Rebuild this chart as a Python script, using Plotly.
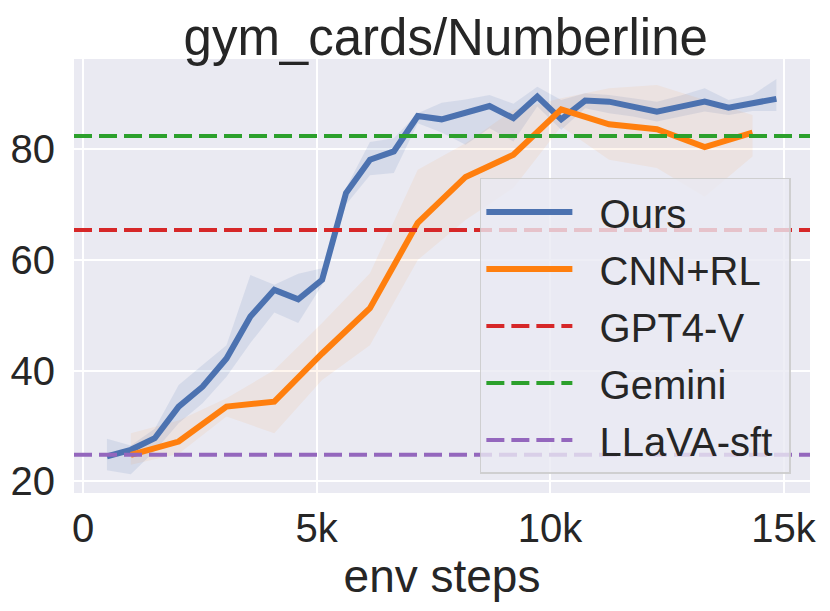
import plotly.graph_objects as go

# env steps (x) for each method
steps_ours = [512, 1024, 1536, 2048, 2560, 3072, 3584, 4096, 4608, 5120,
              5632, 6144, 6656, 7168, 7680, 8192, 8704, 9216, 9728, 10240,
              10752, 11264, 11776, 12288, 12800, 13312, 13824, 14336, 14848]
ours_mean = [24.5, 25.7, 27.8, 33.5, 37.1, 42.2, 49.8, 54.6, 52.9, 56.4,
             72.1, 78.1, 79.6, 86.0, 85.4, 86.5, 87.8, 85.6, 89.5, 85.4,
             88.8, 88.6, 87.7, 86.8, 87.7, 88.6, 87.5, 88.3, 89.1]
ours_upper = [27.7, 26.5, 29.5, 37.4, 41.0, 44.6, 57.3, 55.5, 57.5, 58.5,
              73.0, 81.3, 82.0, 86.5, 88.4, 89.0, 89.8, 88.2, 91.3, 88.9,
              90.1, 89.8, 89.2, 88.6, 89.7, 91.0, 88.9, 89.8, 92.7]
ours_lower = [22.0, 21.3, 25.5, 30.5, 34.1, 38.9, 45.0, 50.5, 48.6, 55.5,
              70.0, 75.3, 75.7, 84.7, 83.0, 80.8, 83.8, 81.4, 87.7, 83.5,
              87.4, 86.5, 85.9, 85.0, 85.9, 86.8, 86.2, 86.9, 86.9]

steps_cnn = [1024, 2048, 3072, 4096, 5120, 6144, 7168, 8192, 9216, 10240,
             11264, 12288, 13312, 14336]
cnn_mean = [24.8, 27.2, 33.5, 34.4, 43.1, 51.3, 66.7, 75.0, 79.0, 87.2,
            84.5, 83.6, 80.4, 83.0]
cnn_upper = [28.7, 31.0, 35.0, 40.1, 48.6, 57.6, 76.3, 81.1, 87.1, 89.2,
             91.0, 91.6, 88.9, 86.2]
cnn_lower = [23.0, 25.0, 31.7, 28.7, 38.3, 44.6, 60.0, 67.2, 73.0, 84.1,
             78.1, 76.6, 71.4, 78.7]

# baselines (horizontal lines)
baseline_names = ["GPT4-V", "Gemini", "LLaVA-sft"]
baseline_values = [65.4, 82.4, 24.8]
baseline_colors = ["#D62728", "#2CA02C", "#9467BD"]

x_range = [-193, 15567]
y_range = [17.9, 96.3]
x_ticks = [0, 5000, 10000, 15000]
x_ticktext = ["0", "5k", "10k", "15k"]
y_ticks = [20, 40, 60, 80]

FONT = "Liberation Sans, Arial, sans-serif"
TXT = "#262626"
PAD = "\u00a0\u00a0"  # gap between legend line and label
END = "\u00a0"        # a bit of right padding in the legend box

fig = go.Figure()


def add_band(x, lo, hi, fillcolor):
    fig.add_trace(go.Scatter(x=x, y=lo, mode="lines", line=dict(width=0),
                             showlegend=False, hoverinfo="skip"))
    fig.add_trace(go.Scatter(x=x, y=hi, mode="lines", line=dict(width=0),
                             fill="tonexty", fillcolor=fillcolor,
                             showlegend=False, hoverinfo="skip"))


add_band(steps_ours, ours_lower, ours_upper, "rgba(76,114,176,0.13)")
add_band(steps_cnn, cnn_lower, cnn_upper, "rgba(255,127,14,0.07)")

fig.add_trace(go.Scatter(x=steps_ours, y=ours_mean, mode="lines",
                         name=PAD + "Ours" + END, legendgroup="a",
                         line=dict(color="#4C72B0", width=6)))
fig.add_trace(go.Scatter(x=steps_cnn, y=cnn_mean, mode="lines",
                         name=PAD + "CNN+RL" + END, legendgroup="b",
                         line=dict(color="#FF7F0E", width=6)))

for i, (name, val, col) in enumerate(zip(baseline_names, baseline_values, baseline_colors)):
    fig.add_trace(go.Scatter(x=x_range, y=[val, val], mode="lines",
                             name=PAD + name + END, legendgroup="c%d" % i,
                             line=dict(color=col, width=4, dash="18px,7px")))

# page body has an 8px margin, so the figure is 8px smaller than the window
fig.update_layout(
    width=822, height=603,
    margin=dict(l=66, r=20, t=51, b=118),
    paper_bgcolor="white",
    plot_bgcolor="#EAEAF2",
    font=dict(family=FONT, color=TXT, size=40),
    title=dict(text="gym_cards/Numberline", x=0.5325, xanchor="center",
               y=0.952, yanchor="middle", font=dict(size=51, color=TXT)),
    legend=dict(x=0.974, y=0.044, xanchor="right", yanchor="bottom",
                bgcolor="rgba(234,234,242,0.8)",
                bordercolor="rgba(204,204,204,0.9)", borderwidth=1.5,
                font=dict(size=40, color=TXT), itemwidth=86,
                tracegroupgap=2, traceorder="grouped"),
    showlegend=True,
)

fig.update_xaxes(range=x_range, tickvals=x_ticks, ticktext=x_ticktext,
                 showgrid=True, gridcolor="white", gridwidth=2,
                 zeroline=False, showline=False, ticks="", automargin=False,
                 ticklabelstandoff=8,
                 title=dict(text="env steps", font=dict(size=46, color=TXT), standoff=10))
fig.update_yaxes(range=y_range, tickvals=y_ticks,
                 showgrid=True, gridcolor="white", gridwidth=2,
                 zeroline=False, showline=False, ticks="", automargin=False,
                 ticklabelstandoff=18)

fig.write_html("out.html")
